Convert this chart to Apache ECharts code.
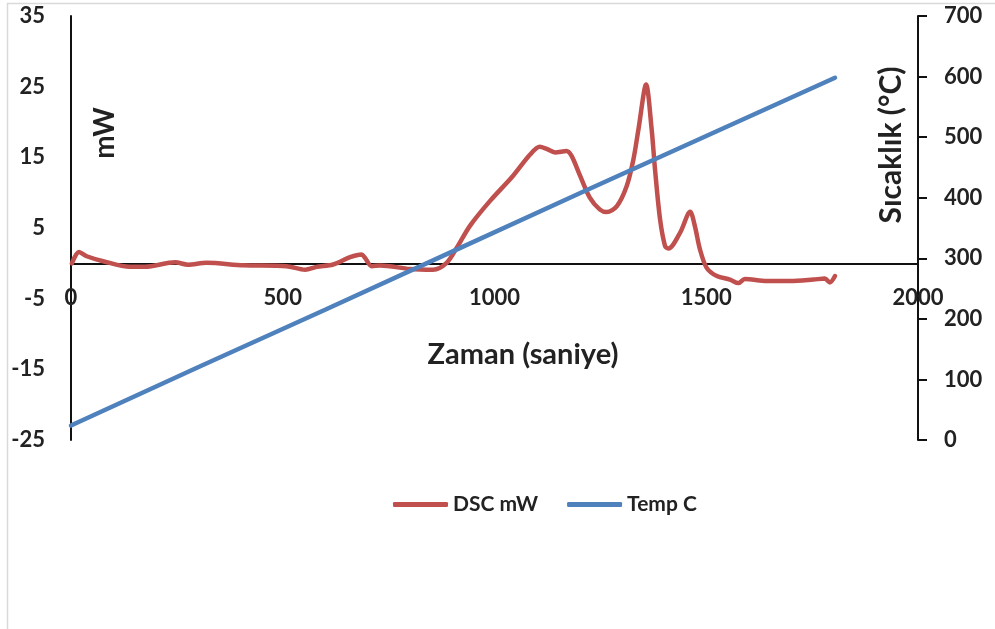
<!DOCTYPE html>
<html>
<head>
<meta charset="utf-8">
<script src="https://cdn.jsdelivr.net/npm/echarts@6/dist/echarts.min.js"></script>
<style>
  html, body { margin: 0; padding: 0; background: #fff; }
  #chart { width: 995px; height: 629px; }
</style>
</head>
<body>
<div id="chart"></div>
<script>
// DSC heat flow (mW) against time (s)
const dscTime = [2, 19, 37, 76, 139, 175, 246, 276, 320, 407, 509, 553, 580, 619, 659, 686, 694, 710, 730, 800, 855, 887,
  911, 942, 989, 1044, 1084, 1107, 1123, 1143, 1170, 1182, 1202, 1225, 1249, 1265, 1289, 1312, 1328, 1340, 1358,
  1371, 1379, 1391, 1403, 1411, 1438, 1462, 1473, 1485, 1501, 1525, 1556, 1576, 1591, 1643, 1698, 1753, 1780, 1792, 1804];
const dscValues = [0, 1.6, 1.0, 0.3, -0.5, -0.5, 0.15, -0.2, 0.07, -0.27, -0.4, -0.9, -0.5, -0.17, 0.87, 1.25, 0.8, -0.4, -0.3, -0.8, -0.9, 0.07,
  2.2, 5.3, 8.8, 12.4, 15.4, 16.5, 16.2, 15.7, 15.9, 15.2, 12.4, 9.3, 7.6, 7.25, 8.1, 10.9, 14.7, 19, 25.3,
  19, 13.3, 6.2, 2.4, 2.1, 4.3, 7.3, 5.3, 2, -0.64, -1.8, -2.3, -2.8, -2.2, -2.5, -2.5, -2.3, -2.15, -2.7, -1.8];

// Sample temperature (°C) against time (s)
const tempTime = [0, 300, 600, 900, 1200, 1500, 1804];
const tempValues = [24, 120, 215, 311, 407, 502, 598];

// Axis ticks
const xTicks = { min: 0, max: 2000, step: 500 };
const leftTicks = { min: -25, max: 35, step: 10 };
const rightTicks = { min: 0, max: 700, step: 100 };

const seriesNames = ['DSC mW', 'Temp C'];

const FONT = 'Lato, "Open Sans", sans-serif';
const INK = '#222222';

const GRID = { left: 71, right: 77, top: 16, bottom: 189 };
const plotHeight = 629 - GRID.top - GRID.bottom;
// the time axis crosses the mW axis at zero: lift it from the bottom edge to that level
const zeroLift = plotHeight * (0 - leftTicks.min) / (leftTicks.max - leftTicks.min);

const chart = echarts.init(document.getElementById('chart'), null, { renderer: 'canvas' });

const pair = (xs, ys) => xs.map((x, i) => [x, ys[i]]);

chart.setOption({
  animation: false,
  backgroundColor: '#ffffff',
  grid: Object.assign({ containLabel: false }, GRID),
  graphic: [
    {
      type: 'rect', silent: true, z: -10,
      shape: { x: 7.5, y: 3.5, width: 1000, height: 640 },
      style: { fill: 'none', stroke: '#d9d9d9', lineWidth: 1.5 }
    },
    {
      type: 'text', x: 105, y: 133, rotation: Math.PI / 2,
      style: { text: 'mW', font: 'bold 28px ' + FONT, fill: INK, align: 'center', verticalAlign: 'middle' }
    },
    {
      type: 'text', x: 891, y: 145, rotation: Math.PI / 2,
      style: { text: 'Sıcaklık (°C)', font: 'bold 30px ' + FONT, fill: INK, align: 'center', verticalAlign: 'middle' }
    },
    {
      type: 'text', x: 523, y: 355,
      style: { text: 'Zaman (saniye)', font: 'bold 29px ' + FONT, fill: INK, align: 'center', verticalAlign: 'middle' }
    }
  ],
  legend: {
    data: seriesNames,
    left: 393,
    top: 494,
    padding: 0,
    icon: 'roundRect',
    itemWidth: 55,
    itemHeight: 5,
    itemGap: 29,
    textStyle: { fontFamily: FONT, fontWeight: 'bold', fontSize: 21, color: INK, padding: [0, 0, 0, 0] }
  },
  xAxis: {
    type: 'value',
    min: xTicks.min, max: xTicks.max, interval: xTicks.step,
    offset: -zeroLift,
    axisLine: { show: true, onZero: false, lineStyle: { color: '#111', width: 2 } },
    axisTick: { show: false },
    axisLabel: { margin: 24, fontFamily: FONT, fontWeight: 'bold', fontSize: 22, color: INK, formatter: v => String(v) },
    splitLine: { show: false }
  },
  yAxis: [
    {
      type: 'value',
      min: leftTicks.min, max: leftTicks.max, interval: leftTicks.step,
      position: 'left',
      axisLine: { show: true, onZero: false, lineStyle: { color: '#111', width: 2 } },
      axisTick: { show: false },
      axisLabel: { margin: 26, fontFamily: FONT, fontWeight: 'bold', fontSize: 22, color: INK },
      splitLine: { show: false }
    },
    {
      type: 'value',
      min: rightTicks.min, max: rightTicks.max, interval: rightTicks.step,
      position: 'right',
      axisLine: { show: true, onZero: false, lineStyle: { color: '#111', width: 2 } },
      axisTick: { show: true, length: 9, inside: false, lineStyle: { color: '#111', width: 2 } },
      axisLabel: { margin: 26, fontFamily: FONT, fontWeight: 'bold', fontSize: 22, color: INK },
      splitLine: { show: false }
    }
  ],
  series: [
    {
      name: seriesNames[0],
      type: 'line',
      yAxisIndex: 0,
      data: pair(dscTime, dscValues),
      smooth: 0.3,
      symbol: 'none',
      lineStyle: { color: '#C0504D', width: 4.5, cap: 'round', join: 'round' },
      itemStyle: { color: '#C0504D' },
      z: 3
    },
    {
      name: seriesNames[1],
      type: 'line',
      yAxisIndex: 1,
      data: pair(tempTime, tempValues),
      symbol: 'none',
      lineStyle: { color: '#4F81BD', width: 4.5, cap: 'round' },
      itemStyle: { color: '#4F81BD' },
      z: 4
    }
  ]
});
</script>
</body>
</html>
